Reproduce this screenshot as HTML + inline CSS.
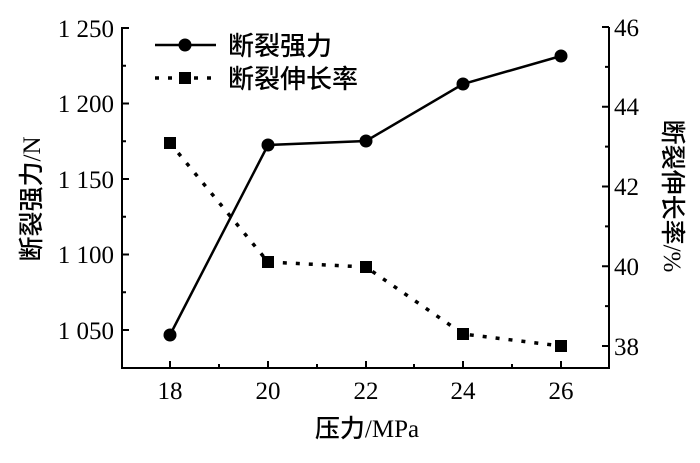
<!DOCTYPE html>
<html><head><meta charset="utf-8"><style>
body{margin:0;background:#fff;}
svg text{font-family:"Liberation Serif","Noto Serif CJK SC",serif;fill:#000;}
.cj{font-family:"Noto Sans CJK SC","WenQuanYi Zen Hei",sans-serif;font-weight:500;}
</style></head><body>
<svg width="700" height="458" viewBox="0 0 700 458" xmlns="http://www.w3.org/2000/svg">
<g stroke="#000" stroke-width="2" fill="none">
<path d="M122 27 V368 H609 V27"/>
<path d="M122 28h7M122 103.5h7M122 179h7M122 254.5h7M122 330h7M122 65.7h4M122 141.2h4M122 216.7h4M122 292.2h4"/>
<path d="M609 27h-7M609 106.7h-7M609 186.5h-7M609 266.2h-7M609 346h-7M609 66.9h-4M609 146.6h-4M609 226.4h-4M609 306.1h-4"/>
<path d="M170 368v-7M268 368v-7M366 368v-7M463 368v-7M561 368v-7M219 368v-4M317 368v-4M414 368v-4M512 368v-4"/>
</g>
<g font-size="25" text-anchor="end">
<text x="114" y="37">1 250</text><text x="114" y="112">1 200</text><text x="114" y="188">1 150</text><text x="114" y="263">1 100</text><text x="114" y="339">1 050</text>
</g>
<g font-size="25">
<text x="614" y="36">46</text><text x="614" y="115">44</text><text x="614" y="195">42</text><text x="614" y="275">40</text><text x="614" y="355">38</text>
</g>
<g font-size="25" text-anchor="middle">
<text x="170" y="399">18</text><text x="268" y="399">20</text><text x="366" y="399">22</text><text x="463" y="399">24</text><text x="561" y="399">26</text>
<text x="367" y="437"><tspan class="cj">压力</tspan>/MPa</text>
<text transform="translate(40 199) rotate(-90)"><tspan class="cj">断裂强力</tspan>/N</text>
<text transform="translate(664 196) rotate(90)"><tspan class="cj">断裂伸长率</tspan>/%</text>
</g>
<polyline points="170,335 268,145 366,141 463,84 561,56" stroke="#000" stroke-width="2.5" fill="none"/>
<polyline points="170,143 268,262 366,267 463,334 561,346" stroke="#000" stroke-width="3.5" stroke-dasharray="4,9" fill="none"/>
<g fill="#000">
<circle cx="170" cy="335" r="6.5"/><circle cx="268" cy="145" r="6.5"/><circle cx="366" cy="141" r="6.5"/><circle cx="463" cy="84" r="6.5"/><circle cx="561" cy="56" r="6.5"/>
<rect x="164" y="137" width="12" height="12"/><rect x="262" y="256" width="12" height="12"/><rect x="360" y="261" width="12" height="12"/><rect x="457" y="328" width="12" height="12"/><rect x="555" y="340" width="12" height="12"/>
</g>
<line x1="155" y1="45" x2="216" y2="45" stroke="#000" stroke-width="2.5"/>
<circle cx="185" cy="45" r="6.5" fill="#000"/>
<line x1="155" y1="78" x2="216" y2="78" stroke="#000" stroke-width="3.5" stroke-dasharray="4,9"/>
<rect x="179" y="72" width="12" height="12" fill="#000"/>
<text x="228" y="55" font-size="26" class="cj">断裂强力</text>
<text x="228" y="88" font-size="26" class="cj">断裂伸长率</text>
</svg>
</body></html>
